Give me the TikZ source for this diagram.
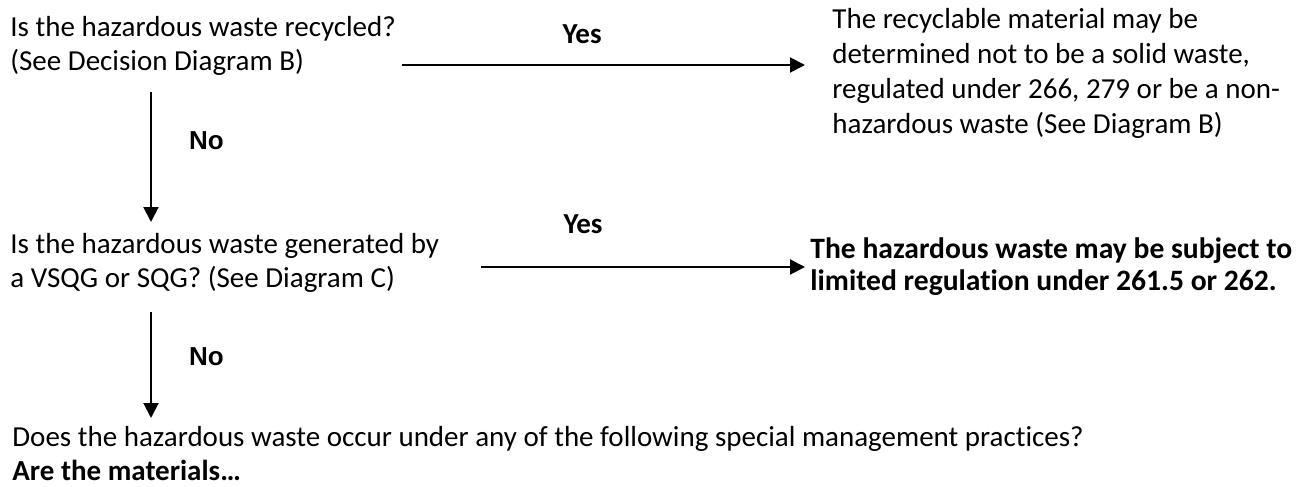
\documentclass[tikz,border=0pt]{standalone}
\usepackage{fontspec}
\setmainfont{Carlito}[Ligatures=NoCommon]
\newfontfamily\arialfont{Liberation Sans}
\usetikzlibrary{arrows.meta}

\begin{document}
\begin{tikzpicture}[x=0.5pt,y=-0.5pt]
        \tikzstyle{every node} = [inner sep = 0pt, anchor = base west, align = left, font = \fontsize{14.5}{17}\selectfont];
        \tikzstyle{flow} = [line width = 1pt, -{Triangle[length=7.5pt,width=7.5pt]}];
        \tikzstyle{yes} = [anchor = base, font = \fontsize{14.5}{17}\selectfont\bfseries];
        \tikzstyle{no} = [anchor = base west, xshift = 18.5pt, font = \arialfont\fontsize{13}{15}\selectfont\bfseries];
        \useasboundingbox (0,0) rectangle (1301,487);
        % questions down the left side (placed at the last baseline)
        \node(q1) at (10,70) {Is the hazardous waste recycled?\\(See Decision Diagram B)};
        \node(q2) at (10,287) {Is the hazardous waste generated by\\a VSQG or SQG? (See Diagram C)};
        \node(q3) at (12,480) {Does the hazardous waste occur under any of the following special management practices?\\\textbf{Are the materials…}};
        % outcomes on the right
        \node(r1) at (832,133) [font = \fontsize{14.5}{17.5}\selectfont] {The recyclable material may be\\determined not to be a solid waste,\\regulated under 266, 279 or be a non-\\hazardous waste (See Diagram B)};
        \node(r2) at (810,290) [font = \fontsize{14.8}{16}\selectfont\bfseries] {The hazardous waste may be subject to\\limited regulation under 261.5 or 262.};
        % arrow ends
        \coordinate(y1s) at (402,65);
        \coordinate(y1e) at (805,65);
        \coordinate(y2s) at (481,267);
        \coordinate(y2e) at (805,267);
        \coordinate(n1s) at (151,92);
        \coordinate(n1e) at (151,222);
        \coordinate(n2s) at (151,312);
        \coordinate(n2e) at (151,418);
        \path[flow] (y1s) edge node[pos=0.447, yes, yshift=11pt] {Yes} (y1e);
        \path[flow] (y2s) edge node[pos=0.315, yes, yshift=17pt] {Yes} (y2e);
        \path[flow] (n1s) edge node[pos=0.446, no] {No} (n1e);
        \path[flow] (n2s) edge node[pos=0.5, no] {No} (n2e);
\end{tikzpicture}
\end{document}
